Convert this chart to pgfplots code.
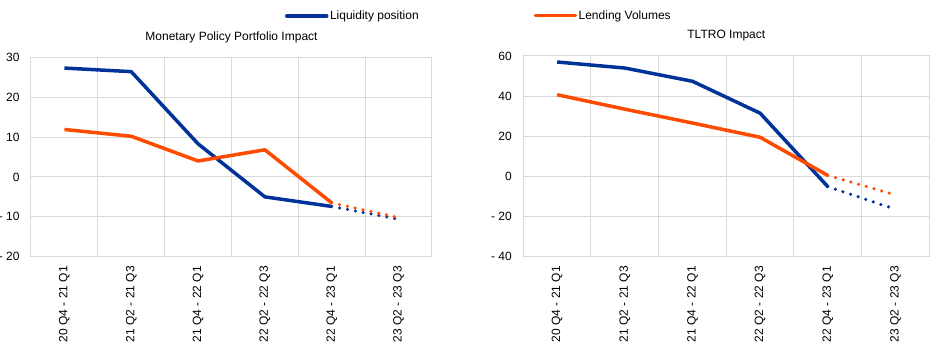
\documentclass[border=0pt]{standalone}
\usepackage{fontspec}
\setmainfont{Liberation Sans}
\usepackage{pgfplots}
\pgfplotsset{compat=1.18}
\definecolor{ecbblue}{HTML}{003299}
\definecolor{ecborange}{HTML}{FF4B00}
\definecolor{gridgray}{HTML}{D9D9D9}
\newcommand\fs{\fontsize{12}{14}\selectfont}
\pgfplotsset{
 ecb/.style={
  scale only axis,
  xmin=-0.5, xmax=5.5,
  xtick={0,1,2,3,4,5},
  xticklabels={20 Q4 - 21 Q1, 21 Q2 - 21 Q3, 21 Q4 - 22 Q1, 22 Q2 - 22 Q3, 22 Q4 - 23 Q1, 23 Q2 - 23 Q3},
  minor xtick={-0.5,0.5,1.5,2.5,3.5,4.5,5.5},
  xmajorgrids=false, xminorgrids=true,
  ymajorgrids,
  major tick length=0pt, minor tick length=0pt,
  axis line style={gridgray, line width=1pt},
  grid style={gridgray, line width=1pt},
  minor grid style={gridgray, line width=1pt},
  xticklabel style={rotate=90, anchor=east, font=\fs, yshift=0pt, xshift=-6pt},
  yticklabel style={font=\fs, xshift=-8pt},
  title style={font=\fs, yshift=5pt},
  legend style={draw=none, fill=none, font=\fs, inner xsep=0pt, inner ysep=0pt, anchor=west, nodes={inner sep=1.5pt}},
  legend image code/.code={\draw[#1, line width=3.5pt, line cap=round] (0pt,0pt) -- (40pt,0pt);},
  solid line/.style={line width=3.5pt, line join=round, no markers},
  dot line/.style={line width=3.5pt, line cap=round, dash pattern=on 0pt off 8pt, no markers},
 }
}
\begin{document}
\begin{tikzpicture}
\path[use as bounding box] (0,0) rectangle (940pt,352pt);
\begin{axis}[ecb,
  at={(31pt,95.3pt)}, anchor=south west,
  width=401pt, height=199.4pt,
  ymin=-20, ymax=30,
  ytick={-20,-10,0,10,20,30},
  yticklabels={- 20,- 10,0,10,20,30},
  title={Monetary Policy Portfolio Impact},
  legend style={at={(0.633,1.207)}},
  legend entries={Liquidity position},
]
\addplot[ecbblue, solid line] coordinates {(0,27.3) (1,26.4) (2,8.3) (3,-5.0) (4,-7.4)};
\addplot[ecborange, solid line, forget plot] coordinates {(0,11.9) (1,10.2) (2,4.0) (3,6.8) (4,-6.5)};
\addplot[ecbblue, dot line, forget plot] coordinates {(4,-7.4) (5,-10.6)};
\addplot[ecborange, dot line, forget plot] coordinates {(4,-6.5) (5,-10.2)};
\end{axis}
\begin{axis}[ecb,
  at={(523.3pt,95.3pt)}, anchor=south west,
  width=406pt, height=200.7pt,
  ymin=-40, ymax=60,
  ytick={-40,-20,0,20,40,60},
  yticklabels={- 40,- 20,0,20,40,60},
  title={TLTRO Impact},
  legend style={at={(0.025,1.201)}},
]
\addplot[ecbblue, solid line, forget plot] coordinates {(0,57.0) (1,54.0) (2,47.4) (3,31.5) (4,-5.1)};
\addplot[ecborange, solid line] coordinates {(0,40.7) (1,33.5) (2,26.6) (3,19.5) (4,0.5)};
\addlegendentry{Lending Volumes}
\addplot[ecbblue, dot line, forget plot] coordinates {(4,-5.1) (5,-16.4)};
\addplot[ecborange, dot line, forget plot] coordinates {(4,0.5) (5,-9.2)};
\end{axis}
\end{tikzpicture}
\end{document}
